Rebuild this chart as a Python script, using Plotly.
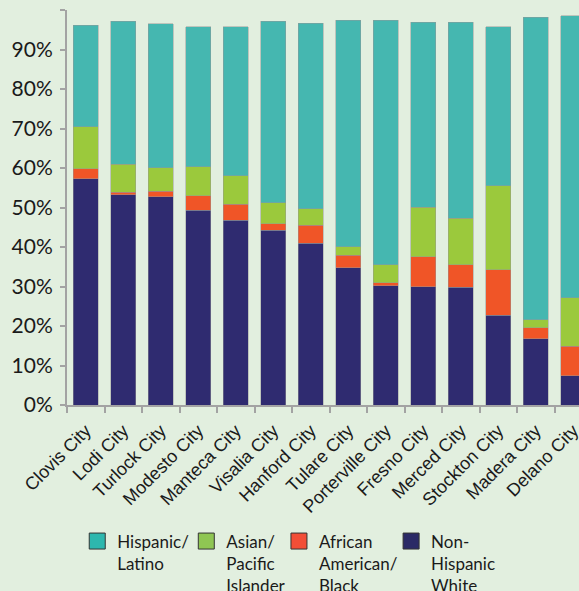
import plotly.graph_objects as go

cities = ['Clovis City', 'Lodi City', 'Turlock City', 'Modesto City', 'Manteca City',
          'Visalia City', 'Hanford City', 'Tulare City', 'Porterville City', 'Fresno City',
          'Merced City', 'Stockton City', 'Madera City', 'Delano City']

# percent of population by group
white = [57.3, 53.2, 52.7, 49.3, 46.8, 44.2, 41.0, 34.7, 30.2, 29.9, 29.8, 22.7, 16.8, 7.4]
african = [2.5, 0.6, 1.4, 3.7, 4.0, 1.7, 4.5, 3.2, 0.7, 7.6, 5.7, 11.6, 2.7, 7.5]
asian = [10.7, 7.1, 6.0, 7.3, 7.3, 5.3, 4.2, 2.2, 4.6, 12.6, 11.8, 21.2, 2.1, 12.2]
hispanic = [25.7, 36.3, 36.4, 35.5, 37.6, 46.0, 47.0, 57.3, 61.9, 46.8, 49.6, 40.3, 76.6, 71.5]

# name, values, bar colour, legend swatch colour, legend id, legend x
series = [
    ('Non-<br>Hispanic<br>White', white, '#2f2b70', '#2b2a66', 'legend4', 0.633),
    ('African<br>American/<br>Black', african, '#f05527', '#f24e37', 'legend3', 0.414),
    ('Asian/<br>Pacific<br>Islander', asian, '#9bc93c', '#8fc653', 'legend2', 0.233),
    ('Hispanic/<br>Latino', hispanic, '#45b7b0', '#2db7ae', 'legend', 0.020),
]

fig = go.Figure()
legends = {}
for name, vals, color, legcolor, leg, lx in series:
    fig.add_trace(go.Bar(
        x=cities, y=vals, name=name, showlegend=False,
        marker=dict(color=color, line=dict(color='rgba(150,150,150,0.6)', width=0.8)),
    ))
    # legend swatch, each in its own legend so spacing can follow the original
    fig.add_trace(go.Scatter(
        x=[None], y=[None], mode='markers', name=name, legend=leg,
        marker=dict(symbol='square', size=16, color=legcolor,
                    line=dict(color='#333333', width=1)),
    ))
    legends[leg] = dict(
        orientation='h', x=lx, xanchor='left', y=-0.300, yanchor='top',
        font=dict(family='Lato', size=17, color='#1a1a1a'),
        valign='top', itemwidth=30, bgcolor='rgba(0,0,0,0)',
    )

fig.update_layout(
    barmode='stack',
    bargap=0.33,
    width=579, height=591,
    margin=dict(l=67, r=0, t=10, b=186, autoexpand=False),
    paper_bgcolor='#e2efdf',
    plot_bgcolor='#e2efdf',
    font=dict(family='Lato', color='#1a1a1a'),
    showlegend=True,
    **legends,
)

fig.update_yaxes(
    range=[0, 100], tickvals=list(range(0, 101, 10)),
    ticktext=[f'{v}%' for v in range(0, 100, 10)] + [''],
    showgrid=False, zeroline=False, automargin=False,
    showline=True, linecolor='#a3a3a3', linewidth=2,
    ticks='outside', ticklen=5, tickcolor='#a3a3a3', tickwidth=2,
    ticklabelstandoff=3,
    tickfont=dict(family='Lato', size=21, color='#1a1a1a'),
)
fig.update_xaxes(
    range=[-0.5, 13.15], automargin=False,
    showgrid=False, showline=True, linecolor='#a3a3a3', linewidth=2,
    ticks='outside', tickson='boundaries', ticklen=6, tickcolor='#a3a3a3', tickwidth=2,
    tickangle=-45, ticklabelstandoff=6,
    tickfont=dict(family='Liberation Sans', size=18, color='#1a1a1a'),
)

fig.write_html('out.html', config={'displayModeBar': False},
               post_script="document.body.style.margin='0';"
                           "document.documentElement.style.overflow='hidden';")
